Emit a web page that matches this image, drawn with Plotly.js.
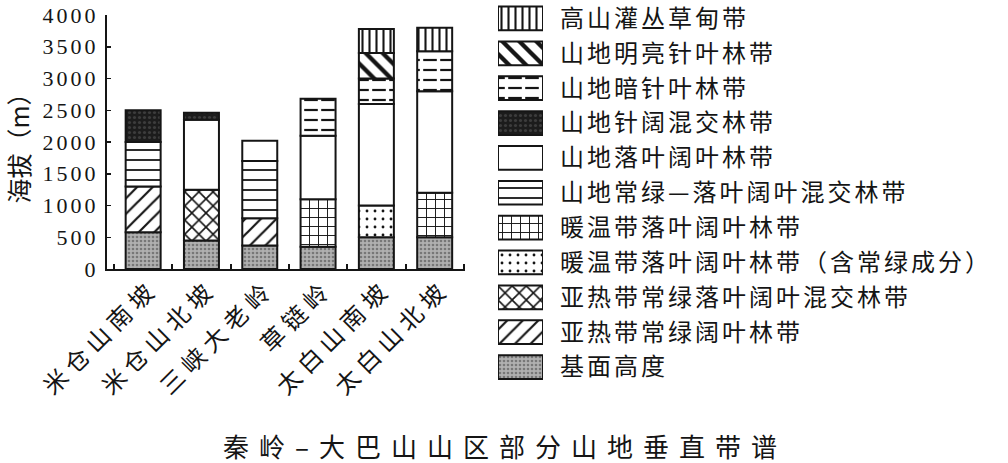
<!DOCTYPE html>
<html>
<head>
<meta charset="utf-8">
<script src="https://cdn.plot.ly/plotly-3.0.1.min.js"></script>
<style>
  html, body { margin: 0; padding: 0; background: #fff; }
  #chart { width: 1008px; height: 463px; }
  .xtick text { letter-spacing: 6px; }
  .ytick text { letter-spacing: 3px; }
  .y2tick text { letter-spacing: 3px; }
  .infolayer .annotation[data-index="0"] text { letter-spacing: 10px; }
</style>
</head>
<body>
<div id="chart"></div>
<script>
// ---- Data (metres of thickness of each vertical belt, bottom to top) ----
const mountains = ['米仓山南坡', '米仓山北坡', '三峡大老岭', '草链岭', '太白山南坡', '太白山北坡'];

const baseHeight         = [580, 450, 370, 350, 500, 500];   // 基面高度
const subtropEvergreen   = [720, null, 430, null, null, null]; // 亚热带常绿阔叶林带
const subtropMixed       = [null, 800, null, null, null, null]; // 亚热带常绿落叶阔叶混交林带
const warmDecidEvergreen = [null, null, null, null, 500, null]; // 暖温带落叶阔叶林带（含常绿成分）
const warmDecid          = [null, null, null, 750, null, 700];  // 暖温带落叶阔叶林带
const montaneEvDecMixed  = [700, null, 900, null, null, null];  // 山地常绿—落叶阔叶混交林带
const montaneDecid       = [null, 1100, 320, 1000, 1600, 1600]; // 山地落叶阔叶林带
const montaneConifBroad  = [500, 110, null, null, null, null];  // 山地针阔混交林带
const darkConifer        = [null, null, null, 580, 400, 630];   // 山地暗针叶林带
const brightConifer      = [null, null, null, null, 400, null]; // 山地明亮针叶林带
const alpineShrub        = [null, null, null, null, 380, 370];  // 高山灌丛草甸带

const bandNames = ['基面高度', '亚热带常绿阔叶林带', '亚热带常绿落叶阔叶混交林带',
  '暖温带落叶阔叶林带（含常绿成分）', '暖温带落叶阔叶林带', '山地常绿—落叶阔叶混交林带',
  '山地落叶阔叶林带', '山地针阔混交林带', '山地暗针叶林带', '山地明亮针叶林带', '高山灌丛草甸带'];
const bandValues = [baseHeight, subtropEvergreen, subtropMixed, warmDecidEvergreen, warmDecid,
  montaneEvDecMixed, montaneDecid, montaneConifBroad, darkConifer, brightConifer, alpineShrub];

const yTickVals = [0, 500, 1000, 1500, 2000, 2500, 3000, 3500, 4000];
const yTitle = '海拔（m）';
const caption = '秦岭–大巴山山区部分山地垂直带谱';

// ---- Styles (per band, same order) ----
const INK = '#151515';
const styles = [
  {bg: '#b0b0b0', shape: '.', fg: '#777777', size: 4, sol: 0.35},
  {bg: '#ffffff', shape: '/', fg: INK, size: 11, sol: 0.2},
  {bg: '#ffffff', shape: 'x', fg: INK, size: 10, sol: 0.3},
  {bg: '#ffffff', shape: '.', fg: INK, size: 8, sol: 0.1},
  {bg: '#ffffff', shape: '+', fg: INK, size: 9, sol: 0.2},
  {bg: '#ffffff', shape: '-', fg: INK, size: 10, sol: 0.18},
  {bg: '#ffffff', shape: '', fg: INK, size: 8, sol: 0.2},
  {bg: '#1c1c1c', shape: '.', fg: '#3c3c3c', size: 5, sol: 0.3},
  {bg: '#ffffff', shape: '-', fg: INK, size: 10, sol: 0.22, dashed: true},
  {bg: '#ffffff', shape: '\\', fg: INK, size: 12, sol: 0.36},
  {bg: '#ffffff', shape: '|', fg: INK, size: 7, sol: 0.3}
];

// ---- Build traces ----
const traces = [];
const cum = mountains.map(() => 0);
const LINE = {color: INK, width: 2};

function patternMarker(st, withLine) {
  return {
    color: st.bg,
    pattern: {shape: st.shape, fgcolor: st.fg, fgopacity: 1, size: st.size, solidity: st.sol, fillmode: 'overlay'},
    line: withLine ? LINE : {width: 0}
  };
}
function breakerMarker() {
  return {
    color: 'rgba(0,0,0,0)',
    pattern: {shape: '|', fgcolor: '#ffffff', fgopacity: 1, bgcolor: 'rgba(0,0,0,0)', size: 17, solidity: 0.2, fillmode: 'replace'},
    line: {width: 0}
  };
}
function outlineMarker() {
  return {color: 'rgba(0,0,0,0)', line: LINE};
}

bandValues.forEach((vals, i) => {
  const st = styles[i];
  const xs = [], ys = [], bases = [];
  vals.forEach((v, j) => {
    if (v !== null) { xs.push(mountains[j]); ys.push(v); bases.push(cum[j]); cum[j] += v; }
  });
  const common = {type: 'bar', x: xs, y: ys, base: bases, width: 0.6, xaxis: 'x', yaxis: 'y',
                  showlegend: false, hoverinfo: 'skip', name: bandNames[i]};
  if (st.dashed) {
    traces.push(Object.assign({}, common, {marker: patternMarker(st, false)}));
    traces.push(Object.assign({}, common, {marker: breakerMarker()}));
    traces.push(Object.assign({}, common, {marker: outlineMarker()}));
  } else {
    traces.push(Object.assign({}, common, {marker: patternMarker(st, true)}));
  }
});

// Legend swatches as a small horizontal-bar subplot
const legendOrder = bandNames.slice().reverse();
bandNames.forEach((nm, i) => {
  const st = styles[i];
  const common = {type: 'bar', orientation: 'h', y: [nm], x: [1], base: [0], width: 0.68,
                  xaxis: 'x2', yaxis: 'y2', showlegend: false, hoverinfo: 'skip', name: nm};
  if (st.dashed) {
    traces.push(Object.assign({}, common, {marker: patternMarker(st, false)}));
    traces.push(Object.assign({}, common, {marker: breakerMarker()}));
    traces.push(Object.assign({}, common, {marker: outlineMarker()}));
  } else {
    traces.push(Object.assign({}, common, {marker: patternMarker(st, true)}));
  }
});

const W = 1008, H = 463;
const layout = {
  width: W, height: H,
  margin: {l: 0, r: 0, t: 0, b: 0, pad: 0},
  paper_bgcolor: '#ffffff', plot_bgcolor: 'rgba(0,0,0,0)',
  barmode: 'overlay',
  showlegend: false,
  hovermode: false,
  font: {family: '"Noto Sans CJK SC", sans-serif', color: INK},
  xaxis: {
    domain: [107 / W, 465 / W], type: 'category', categoryorder: 'array', categoryarray: mountains,
    range: [-0.62, 5.52], anchor: 'y',
    showline: true, linecolor: INK, linewidth: 2, mirror: false,
    ticks: 'inside', tickson: 'boundaries', ticklen: 5, tickwidth: 2, tickcolor: INK,
    tickangle: -45, tickfont: {family: '"Noto Sans CJK SC"', size: 24, color: INK},
    ticklabelshift: 8, ticklabelstandoff: -6,
    showgrid: false, zeroline: false, automargin: false
  },
  yaxis: {
    domain: [1 - 269 / H, 1 - 15 / H], range: [0, 4000], anchor: 'x',
    tickmode: 'array', tickvals: yTickVals, ticktext: yTickVals.map(String),
    showline: true, linecolor: INK, linewidth: 2,
    ticks: 'inside', ticklen: 4, tickwidth: 1.5, tickcolor: INK,
    tickfont: {family: '"Liberation Serif", serif', size: 22, color: INK},
    ticklabelstandoff: 2,
    title: {text: yTitle, font: {family: '"Noto Sans CJK SC"', size: 25, color: INK}, standoff: 6},
    showgrid: false, zeroline: false, automargin: false
  },
  xaxis2: {
    domain: [498 / W, 543 / W], range: [0, 1], anchor: 'y2',
    showline: false, showticklabels: false, ticks: '', showgrid: false, zeroline: false, automargin: false
  },
  yaxis2: {
    domain: [1 - 384 / H, 1 - 3 / H], type: 'category', categoryorder: 'array', categoryarray: legendOrder,
    range: [10.487, -0.444], anchor: 'x2', side: 'right',
    showline: false, ticks: '', showgrid: false, zeroline: false, automargin: false,
    ticklabelstandoff: 16,
    tickfont: {family: '"Noto Sans CJK SC"', size: 24, color: INK}
  },
  annotations: [{
    text: caption, xref: 'paper', yref: 'paper', x: 505 / W, y: 1 - 445 / H,
    xanchor: 'center', yanchor: 'middle', showarrow: false,
    font: {family: '"Noto Sans CJK SC"', size: 26, color: INK}
  }]
};

Plotly.newPlot('chart', traces, layout, {staticPlot: true, displayModeBar: false});
</script>
</body>
</html>
